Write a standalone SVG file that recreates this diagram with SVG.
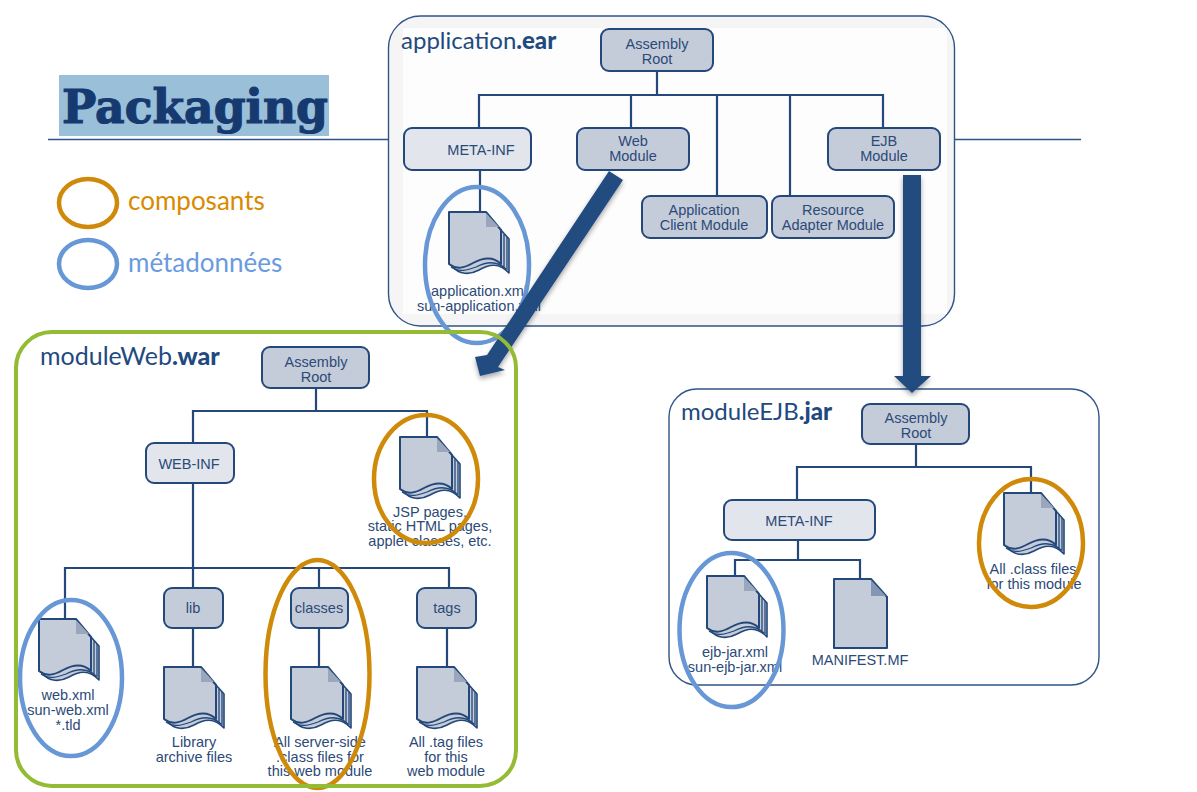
<svg xmlns="http://www.w3.org/2000/svg" xmlns:xlink="http://www.w3.org/1999/xlink" width="1197" height="792" viewBox="0 0 1197 792">
<style>
text{font-family:"Liberation Sans",Arial,sans-serif;fill:#2b4a78;font-size:14.500px;text-anchor:middle}
.box{stroke:#24487a;stroke-width:2;fill:#c5ccd9}
.lt{fill:#e2e5ec}
.conn{fill:none;stroke:#24487a;stroke-width:2.2}
.rule{fill:none;stroke:#2f5488;stroke-width:1.3}
.o{fill:none;stroke:#d08a0a;stroke-width:4.5}
.b{fill:none;stroke:#6897d6;stroke-width:4.5}
.t{font-family:Lato,sans-serif;font-size:24px;text-anchor:start;fill:#1f4a80}
.t tspan{font-weight:900}
.big{fill:#244c80;filter:url(#sh)}
</style>
<defs>
<filter id="sh" x="-20%" y="-20%" width="140%" height="140%"><feDropShadow dx="0" dy="3" stdDeviation="2.5" flood-color="#000" flood-opacity=".35"/></filter>
<g id="docs">
<path d="M52,18 L60,27 V61 C50,50 40,52 30,58 C21,63 10,63 3,54 Z" fill="#c5ccd9" stroke="#24487a" stroke-width="1.6" stroke-linejoin="round"/>
<path d="M55,22 V55 M58,25 V58 M2,55 C10,61 19,58 27,55 C37,50 47,48 57,57" fill="none" stroke="#24487a" stroke-width="1.3"/>
<path d="M0,0 H37 L52,18 V52 C43,43 33,46 24,51 C15,56 8,58 0,52 Z" fill="#c5ccd9" stroke="#24487a" stroke-width="2" stroke-linejoin="round"/>
<path d="M37,1 V15 H50 Z" fill="#99a6bc"/>
</g>
</defs>
<rect width="1197" height="792" fill="#fff"/>
<path class="rule" d="M48,139.5 H388 M954,139.5 H1081"/>
<g id="title"><rect x="59" y="75" width="270" height="61" fill="#99bfd9"/><text x="62" y="123" style="font-family:'DejaVu Serif',serif;font-weight:700;font-size:47px;text-anchor:start;fill:#163a70;stroke:#163a70;stroke-width:1.2" textLength="266" lengthAdjust="spacingAndGlyphs">Packaging</text></g>
<g id="legend-composants"><ellipse cx="88" cy="203" rx="29" ry="24" class="o"/><text x="128" y="210" style="font-family:Lato,sans-serif;font-size:26px;text-anchor:start;fill:#d98a00">composants</text></g>
<g id="legend-metadonnees"><ellipse cx="88" cy="264" rx="29" ry="24" class="b"/><text x="128" y="272" style="font-family:Lato,sans-serif;font-size:26px;text-anchor:start;fill:#6a9ae0">métadonnées</text></g>
<g id="application-ear"><rect x="388.500" y="16" width="566" height="310" rx="32" fill="#f5f5f5" stroke="#2f5488" stroke-width="1.4"/><rect x="403" y="28" width="544" height="286" fill="#fdfdfd"/><text class="t" x="401" y="49">application<tspan>.ear</tspan></text></g>
<g id="moduleWeb-war"><rect x="16" y="332" width="500" height="454" rx="36" fill="#fff"/><text class="t" x="40" y="365" style="font-size:25px">moduleWeb<tspan>.war</tspan></text></g>
<g id="moduleEJB-jar"><rect x="669" y="389" width="430" height="296" rx="28" fill="#fff" stroke="#2f5488" stroke-width="1.4"/><text class="t" x="681" y="420">moduleEJB<tspan>.jar</tspan></text></g>
<g id="connectors">
<path class="conn" d="M657,71 V95 M479,128 V95 H883 V128 M631,95 V128 M717,95 V197 M790,95 V197 M480,170 V212"/>
<path class="conn" d="M316,388 V411 M193,443 V411 H427 V437 M193,483 V568 M65,620 V568 H449 V588 M193,568 V588 M319,568 V588 M193,628 V667 M319,628 V667 M447,628 V667"/>
<path class="conn" d="M916,444 V467 M797,500 V467 H1031 V493 M798,540 V560 M735,576 V560 H860 V580"/>
</g>
<g id="ear-root"><rect class="box" x="601" y="29" width="112" height="42" rx="8"/><text x="657" y="49">Assembly</text><text x="657" y="64">Root</text></g>
<g id="ear-meta"><rect class="box lt" x="404" y="128" width="127" height="42" rx="8"/><text x="481" y="155">META-INF</text></g>
<g id="ear-web"><rect class="box" x="577" y="128" width="112" height="42" rx="8"/><text x="633" y="146">Web</text><text x="633" y="161">Module</text></g>
<g id="ear-ejb"><rect class="box" x="828" y="128" width="112" height="42" rx="8"/><text x="884" y="146">EJB</text><text x="884" y="161">Module</text></g>
<g id="ear-client"><rect class="box" x="642" y="196" width="125" height="42" rx="8"/><text x="704" y="215">Application</text><text x="704" y="230">Client Module</text></g>
<g id="ear-adapter"><rect class="box" x="772" y="196" width="122" height="42" rx="8"/><text x="833" y="215">Resource</text><text x="833" y="230">Adapter Module</text></g>
<g id="ear-doc"><use xlink:href="#docs" href="#docs" x="449" y="212"/><text x="479" y="296">application.xml</text><text x="479" y="311">sun-application.xml</text></g>
<g id="war-root"><rect class="box" x="262" y="347" width="107" height="41" rx="8"/><text x="316" y="367">Assembly</text><text x="316" y="382">Root</text></g>
<g id="war-webinf"><rect class="box lt" x="146" y="443" width="88" height="40" rx="8"/><text x="189" y="469">WEB-INF</text></g>
<g id="war-jsp"><use xlink:href="#docs" href="#docs" x="400" y="437"/><text x="430" y="516.500">JSP pages,</text><text x="430" y="531">static HTML pages,</text><text x="430" y="545.500">applet classes, etc.</text></g>
<g id="war-lib"><rect class="box" x="164" y="588" width="59" height="40" rx="8"/><text x="193" y="613">lib</text><use xlink:href="#docs" href="#docs" x="164" y="667"/><text x="194" y="747">Library</text><text x="194" y="762">archive files</text></g>
<g id="war-classes"><rect class="box" x="291" y="588" width="57" height="40" rx="8"/><text x="319" y="613">classes</text><use xlink:href="#docs" href="#docs" x="291" y="667"/><text x="320" y="747">All server-side</text><text x="320" y="761.500">.class files for</text><text x="320" y="776">this web module</text></g>
<g id="war-tags"><rect class="box" x="417" y="588" width="59" height="40" rx="8"/><text x="447" y="613">tags</text><use xlink:href="#docs" href="#docs" x="417" y="667"/><text x="446" y="747">All .tag files</text><text x="446" y="761.500">for this</text><text x="446" y="776">web module</text></g>
<g id="war-webxml"><use xlink:href="#docs" href="#docs" x="39" y="619"/><text x="68" y="700">web.xml</text><text x="68" y="715">sun-web.xml</text><text x="68" y="730">*.tld</text></g>
<g id="jar-root"><rect class="box" x="862" y="404" width="107" height="40" rx="8"/><text x="916" y="423">Assembly</text><text x="916" y="438">Root</text></g>
<g id="jar-meta"><rect class="box lt" x="724" y="500" width="151" height="40" rx="8"/><text x="799" y="526">META-INF</text></g>
<g id="jar-classes"><use xlink:href="#docs" href="#docs" x="1004" y="493"/><text x="1033" y="574">All .class files</text><text x="1034" y="588.500">for this module</text></g>
<g id="jar-ejbxml"><use xlink:href="#docs" href="#docs" x="707" y="576"/><text x="735" y="657">ejb-jar.xml</text><text x="735" y="672">sun-ejb-jar.xml</text></g>
<g id="jar-manifest"><path d="M834,579 H871 L887,597 V648 H834 Z" fill="#c5ccd9" stroke="#24487a" stroke-width="2" stroke-linejoin="round"/><path d="M871,580 V596 H886 Z" fill="#8496b3"/><text x="860" y="665">MANIFEST.MF</text></g>
<ellipse cx="477" cy="265" rx="52" ry="78" class="b"/>
<ellipse cx="426" cy="479" rx="52" ry="64" class="o"/>
<ellipse cx="71" cy="678" rx="51" ry="78" class="b"/>
<ellipse cx="317.500" cy="674" rx="52" ry="114" class="o"/>
<ellipse cx="1031" cy="543" rx="52" ry="64" class="o"/>
<ellipse cx="731.500" cy="630" rx="52" ry="77" class="b"/>
<polygon class="big" points="609,171 623,180 498,367 505,370 480,376 475,357 487,355"/>
<polygon class="big" points="903,175 921,175 921,376 931,376 912,393 894,376 903,376"/>
<rect id="moduleWeb-frame" x="16" y="332" width="500" height="454" rx="36" fill="none" stroke="#94bb34" stroke-width="4"/>
</svg>
